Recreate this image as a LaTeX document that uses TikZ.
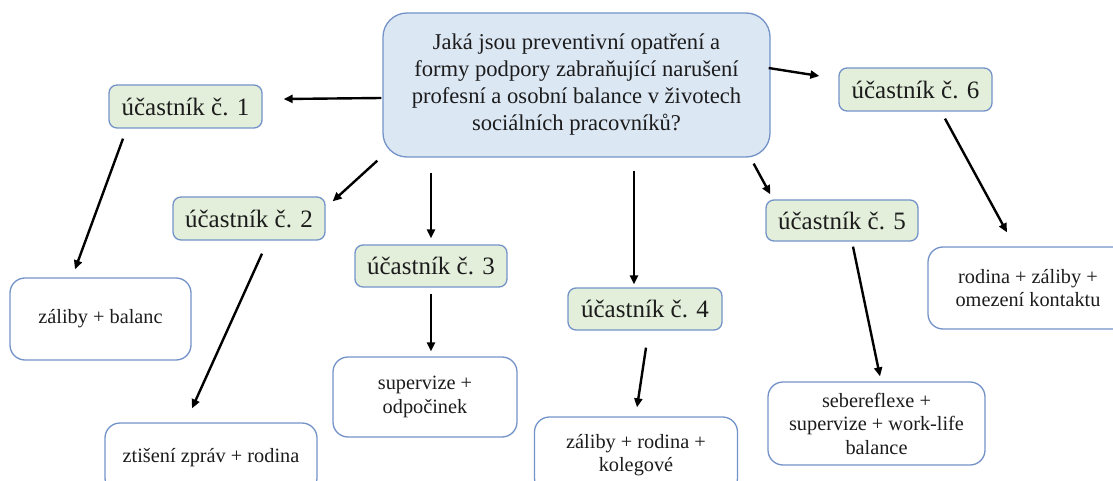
\documentclass[tikz,border=0pt]{standalone}
\usepackage{fontspec}
\setmainfont{Liberation Serif}
\usetikzlibrary{arrows.meta,calc}
\definecolor{bordc}{HTML}{7393C8}
\definecolor{qfill}{HTML}{DCE7F4}
\definecolor{pfill}{HTML}{E3EFDA}
\definecolor{txtc}{HTML}{1C1C1C}
\tikzset{
  box/.style={draw=bordc, line width=1.3pt, rectangle, text=txtc, align=center, inner sep=0pt},
  qbox/.style={box, fill=qfill, rounded corners=24pt, minimum width=387pt, minimum height=144pt,
    font=\fontsize{22.6}{27}\selectfont},
  pbox/.style={box, fill=pfill, rounded corners=8pt, minimum height=43pt,
    font=\fontsize{25}{30}\selectfont},
  lbox/.style={box, fill=white, rounded corners=15pt,
    font=\fontsize{20.3}{23.5}\selectfont},
  arr/.style={draw=black, line width=2.4pt, -{Triangle[length=9pt,width=8pt]}}
}
\begin{document}
\begin{tikzpicture}[x=1pt,y=-1pt]
\useasboundingbox (0,0) rectangle (1113,481);
\clip (0,0) rectangle (1113,481);
% central question
\node[qbox] (c) at (576.5,85) {Jaká jsou preventivní opatření a\\formy podpory zabraňující narušení\\profesní a osobní balance v životech\\sociálních pracovníků?};
% participants
\node[pbox, minimum width=153pt] (p1) at (185.5,106.5) {účastník č. 1};
\node[pbox, minimum width=152pt] (p2) at (249,218.5) {účastník č. 2};
\node[pbox, minimum width=152pt, minimum height=42pt] (p3) at (431,266) {účastník č. 3};
\node[pbox, minimum width=154pt, minimum height=42pt] (p4) at (645,309) {účastník č. 4};
\node[pbox, minimum width=152pt, minimum height=41pt] (p5) at (842,220.5) {účastník č. 5};
\node[pbox, minimum width=153pt] (p6) at (915.5,89.5) {účastník č. 6};
% leaves
\node[lbox, minimum width=181pt, minimum height=82pt] (l1) at (100.5,319) {záliby + balanc};
\node[lbox, minimum width=212pt, minimum height=70pt] (l2) at (211,458) {ztišení zpráv + rodina};
\node[lbox, minimum width=184pt, minimum height=80pt] (l3) at (425,397) {supervize +\\odpočinek};
\node[lbox, minimum width=203pt, minimum height=76pt] (l4) at (636,455) {záliby + rodina +\\kolegové};
\node[lbox, minimum width=217pt, minimum height=83pt] (l5) at (876.5,423.5) {sebereflexe +\\supervize + work-life\\balance};
\node[lbox, minimum width=200pt, minimum height=82pt] (l6) at (1028,288) {rodina + záliby +\\omezení kontaktu};
% connectors
\draw[arr] ($(c.west)+(-1,13)$) -- ($(p1.east)+(21,-7.5)$);
\draw[arr] ($(c.east)+(-2,-17)$) -- ($(p6.west)+(-19,-13.5)$);
\draw[arr] ($(c.south west)+(-5,3)$) -- ($(p2.north east)+(7,5)$);
\draw[arr] ($(c.south -| p3.north)+(0,15)$) -- ($(p3.north)+(0,-6)$);
\draw[arr] ($(c.south)+(57.5,13)$) -- ($(p4.north)+(-11,-3)$);
\draw[arr] ($(c.south east)+(-17,6)$) -- ($(p5.north west)+(5,-5)$);
\draw[arr] ($(p1.south)+(-62.5,10)$) -- ($(l1.north)+(-25.5,-8)$);
\draw[arr] ($(p2.south)+(13,13)$) -- ($(l2.north)+(-19,-14)$);
\draw[arr] ($(p3.south)+(0,6)$) -- ($(l3.north)+(6,-5)$);
\draw[arr] ($(p4.south)+(1,17)$) -- ($(l4.north)+(1,-9)$);
\draw[arr] ($(p5.south)+(11,5)$) -- ($(l5.north)+(3.5,-5)$);
\draw[arr] ($(p6.south)+(29.5,7)$) -- ($(l6.north)+(-21,-14)$);
\end{tikzpicture}
\end{document}
